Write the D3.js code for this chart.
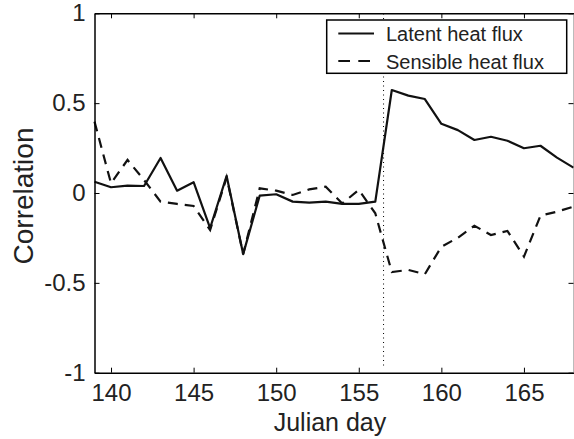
<!DOCTYPE html>
<html>
<head>
  <script src="https://d3js.org/d3.v7.min.js"></script>
  <style>
    html, body { margin: 0; padding: 0; background: #fff; overflow: hidden; }
    svg { display: block; font-family: "Liberation Sans", Arial, Helvetica, sans-serif; }
  </style>
</head>
<body>
  <svg></svg>
  <script>
    // Julian days and the two correlation series
    var days = [139, 140, 141, 142, 143, 144, 145, 146, 147, 148, 149, 150, 151, 152, 153,
                154, 155, 156, 157, 158, 159, 160, 161, 162, 163, 164, 165, 166, 167, 168];
    var latent = [0.063, 0.032, 0.041, 0.039, 0.195, 0.013, 0.06, -0.195, 0.095, -0.34,
                  -0.015, -0.007, -0.048, -0.054, -0.048, -0.061, -0.061, -0.048, 0.573, 0.542,
                  0.523, 0.385, 0.35, 0.295, 0.313, 0.291, 0.249, 0.263, 0.197, 0.141];
    var sensible = [0.397, 0.054, 0.184, 0.072, -0.048, -0.061, -0.072, -0.206, 0.087, -0.34,
                    0.026, 0.013, -0.011, 0.02, 0.035, -0.058, 0.017, -0.113, -0.44, -0.428,
                    -0.452, -0.299, -0.249, -0.182, -0.234, -0.211, -0.354, -0.126, -0.104, -0.076];
    var xTicks = [140, 145, 150, 155, 160, 165];
    var yTicks = [-1, -0.5, 0, 0.5, 1];
    var seriesNames = ["Latent heat flux", "Sensible heat flux"];
    var eventDay = 156.5;

    var width = 574, height = 439;
    var svg = d3.select("svg").attr("width", width).attr("height", height);

    var x = d3.scaleLinear().domain([139, 168]).range([94.5, 573.5]);
    var y = d3.scaleLinear().domain([-1, 1]).range([372.7, 13.3]);

    // dotted marker line (legend box sits on top of it)
    svg.append("line")
      .attr("x1", x(eventDay)).attr("x2", x(eventDay))
      .attr("y1", y(-0.96)).attr("y2", y(1))
      .attr("stroke", "#000").attr("stroke-width", 1)
      .attr("stroke-dasharray", "1,3.5");

    var line = d3.line()
      .x(function(d, i) { return x(days[i]); })
      .y(function(d) { return y(d); });

    svg.append("path").datum(sensible)
      .attr("d", line)
      .attr("fill", "none").attr("stroke", "#111").attr("stroke-width", 2.2)
      .attr("stroke-dasharray", "10,7");

    svg.append("path").datum(latent)
      .attr("d", line)
      .attr("fill", "none").attr("stroke", "#111").attr("stroke-width", 2.2)
      .attr("stroke-linejoin", "round");

    // axes, ticks pointing inward on all four sides
    var fmt = function(d) { return String(d); };
    var axBottom = svg.append("g").attr("transform", "translate(0," + y(-1) + ")")
      .call(d3.axisBottom(x).tickValues(xTicks).tickSizeInner(-5).tickSizeOuter(0).tickPadding(11).tickFormat(fmt));
    var axTop = svg.append("g").attr("transform", "translate(0," + y(1) + ")")
      .call(d3.axisTop(x).tickValues(xTicks).tickSizeInner(-5).tickSizeOuter(0).tickFormat(""));
    var axLeft = svg.append("g").attr("transform", "translate(" + x(139) + ",0)")
      .call(d3.axisLeft(y).tickValues(yTicks).tickSizeInner(-5).tickSizeOuter(0).tickPadding(9).tickFormat(fmt));
    var axRight = svg.append("g").attr("transform", "translate(" + x(168) + ",0)")
      .call(d3.axisRight(y).tickValues(yTicks).tickSizeInner(-5).tickSizeOuter(0).tickFormat(""));

    [axBottom, axTop, axLeft, axRight].forEach(function(g) {
      g.select(".domain").attr("stroke", "#000").attr("stroke-width", 1.5);
      g.selectAll(".tick line").attr("stroke", "#000").attr("stroke-width", 1);
    });
    axRight.select(".domain").attr("stroke", "#777").attr("stroke-width", 1);
    axBottom.selectAll("text").attr("font-size", 24).attr("fill", "#222").attr("font-family", null);
    axLeft.selectAll("text").attr("font-size", 24).attr("fill", "#222").attr("font-family", null);

    // axis titles
    svg.append("text")
      .attr("x", 330).attr("y", 431)
      .attr("text-anchor", "middle").attr("font-size", 25).attr("fill", "#222")
      .text("Julian day");
    svg.append("text")
      .attr("transform", "translate(33,196) rotate(-90)")
      .attr("text-anchor", "middle").attr("font-size", 28).attr("fill", "#222")
      .text("Correlation");

    // legend
    var legend = svg.append("g");
    legend.append("rect")
      .attr("x", 326.7).attr("y", 20).attr("width", 240).attr("height", 53.3)
      .attr("fill", "#fff").attr("stroke", "#000").attr("stroke-width", 1.5);
    var rows = [{ y: 33.5, dash: null }, { y: 61, dash: "11.7,8.3" }];
    rows.forEach(function(r, i) {
      legend.append("line")
        .attr("x1", 338.3).attr("x2", 374).attr("y1", r.y).attr("y2", r.y)
        .attr("stroke", "#111").attr("stroke-width", 2.2)
        .attr("stroke-dasharray", r.dash);
      legend.append("text")
        .attr("x", 386).attr("y", r.y + 7.5)
        .attr("font-size", 20).attr("fill", "#222")
        .text(seriesNames[i]);
    });
  </script>
</body>
</html>
